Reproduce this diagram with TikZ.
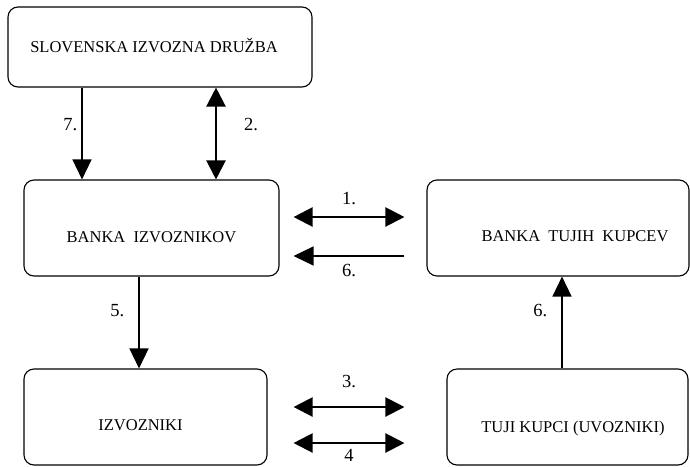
\documentclass[tikz,border=0pt]{standalone}
\usepackage{fontspec}
\setmainfont{Liberation Serif}
\usetikzlibrary{arrows.meta,positioning,calc}

\begin{document}
\begin{tikzpicture}[x=1pt,y=-1pt,
    box/.style={draw, line width=1.1pt, rounded corners=10pt, inner sep=0pt},
    txt/.style={font=\fontsize{16.5}{19}\selectfont, text height=11pt, text depth=0pt, inner sep=0pt},
    num/.style={font=\fontsize{18.5}{22}\selectfont, inner sep=2pt},
    sarr/.style={-{Triangle[length=20pt,width=19pt]}, line width=1.5pt},
    darr/.style={{Triangle[length=19pt,width=19pt]}-{Triangle[length=19pt,width=19pt]}, line width=2.2pt}
]
\useasboundingbox (0,0) rectangle (690,466);

\node[box, minimum width=304pt, minimum height=80pt, label={[txt,xshift=-6pt]center:SLOVENSKA IZVOZNA DRUŽBA}] (sid) at (160,47) {};
\node[box, minimum width=255pt, minimum height=96pt, label={[txt,yshift=-9pt]center:BANKA\ \ IZVOZNIKOV}] (bik) at (151.5,228) {};
\node[box, minimum width=262pt, minimum height=96pt, label={[txt,xshift=17pt,yshift=-8pt]center:BANKA\ \ TUJIH\ \ KUPCEV}] (btk) at (558,228) {};
\node[box, minimum width=243pt, minimum height=96pt, label={[txt,xshift=-5pt,yshift=-8pt]center:IZVOZNIKI}] (izv) at (145.5,417) {};
\node[box, minimum width=241pt, minimum height=96pt, label={[txt,xshift=5.5pt,yshift=-10pt]center:TUJI KUPCI (UVOZNIKI)}] (tjk) at (567.5,417) {};

% vertical flows
\draw[sarr] ($(sid.south)+(-78,0)$) -- ($(bik.north)+(-69.5,0)$) node[num, left=2pt, pos=.4] {7.};
\draw[darr] ($(sid.south)+(56,0)$) -- ($(bik.north)+(64.5,0)$) node[num, right=25pt, pos=.4] {2.};
\draw[sarr] ($(bik.south)+(-12.5,0)$) -- ($(izv.north)+(-6.5,0)$) node[num, left=12pt, pos=.37] {5.};
\draw[sarr] ($(tjk.north)+(-5.5,0)$) -- ($(btk.south)+(4,0)$) node[num, left=12pt, pos=.63] {6.};

% horizontal flows
\draw[darr] ($(bik.east)+(14,-11)$) -- ($(btk.west)+(-22,-11)$) node[num, above=8.75pt, midway] {1.};
\draw[sarr] ($(btk.west)+(-22,28)$) -- ($(bik.east)+(14,28)$) node[num, below=5.75pt, midway] {6.};
\draw[darr] ($(izv.east)+(26,-10)$) -- ($(tjk.west)+(-42,-10)$) node[num, above=15.75pt, midway] {3.};
\draw[darr] ($(izv.east)+(26,26)$) -- ($(tjk.west)+(-42,26)$) node[num, below=3pt, midway] {4};
\end{tikzpicture}
\end{document}
